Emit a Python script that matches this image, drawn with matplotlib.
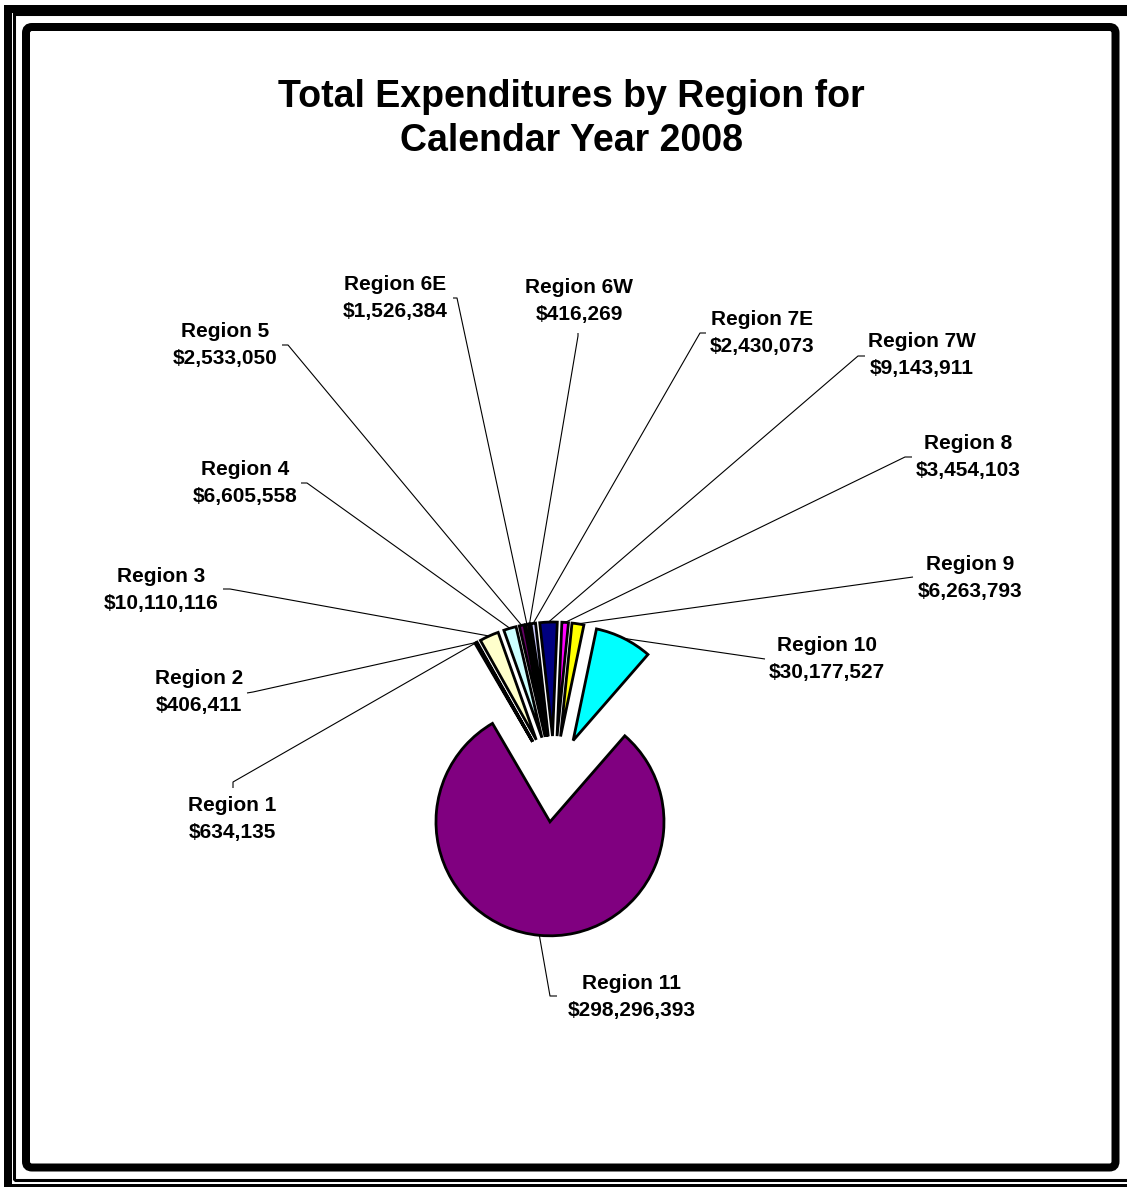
import matplotlib
matplotlib.use("Agg")
import matplotlib.pyplot as plt
from matplotlib.patches import Rectangle, FancyBboxPatch
import numpy as np

# ---- data ----
regions = ['Region 1', 'Region 2', 'Region 3', 'Region 4', 'Region 5', 'Region 6E',
           'Region 6W', 'Region 7E', 'Region 7W', 'Region 8', 'Region 9',
           'Region 10', 'Region 11']
amounts = [634135, 406411, 10110116, 6605558, 2533050, 1526384, 416269,
           2430073, 9143911, 3454103, 6263793, 30177527, 298296393]
colors = ['#9999FF', '#993366', '#FFFFCC', '#CCFFFF', '#660066', '#FF8080',
          '#0066CC', '#CCCCFF', '#000080', '#FF00FF', '#FFFF00', '#00FFFF',
          '#800080']
title = "Total Expenditures by Region for\nCalendar Year 2008"

# ---- layout (pixel coords from top-left) ----
W, H = 1127, 1187
def py(y):
    return H - y

# label text centre, anchor at label side, elbow point
label_layout = [
    ((232, 819), (233, 788), (233, 782)),
    ((199, 692), (247, 693), (253, 692)),
    ((161, 590), (223, 589), (230, 589)),
    ((245, 483), (301, 483), (307, 483)),
    ((225, 345), (282, 345), (288, 345)),
    ((395, 298), (453, 298), (457, 298)),
    ((579, 301), (578, 333), (578, 336)),
    ((762, 333), (706, 333), (700, 333)),
    ((922, 355), (865, 356), (858, 356)),
    ((968, 457), (912, 457), (905, 457)),
    ((970, 578), (913, 577), (913, 577)),
    ((827, 659), (765, 659), (765, 659)),
    ((632, 997), (557, 996), (550, 996)),
]

plt.rcParams['font.family'] = ['Liberation Sans', 'DejaVu Sans']

fig = plt.figure(figsize=(W / 100, H / 100), dpi=100)
ax = fig.add_axes([0, 0, 1, 1])

pie_center = (554, py(779))
pie_radius = 114
explode_dist = 43

wedges, _ = ax.pie(amounts, colors=colors, startangle=120.3, counterclock=False,
                   radius=pie_radius, center=pie_center,
                   explode=[explode_dist] * len(amounts),
                   wedgeprops=dict(edgecolor='black', linewidth=2.0))

for w, name, val, (tc, anc, elb) in zip(wedges, regions, amounts, label_layout):
    th = np.deg2rad(0.5 * (w.theta1 + w.theta2))
    cx, cy = w.center
    sx = cx + w.r * np.cos(th)
    sy = cy + w.r * np.sin(th)
    ax.plot([sx, elb[0], anc[0]], [sy, py(elb[1]), py(anc[1])],
            color='black', lw=0.8, solid_capstyle='butt', zorder=1)
    ax.text(tc[0], py(tc[1]), f"{name}\n${val:,}", ha='center', va='center',
            multialignment='center', fontsize=15, fontweight='bold',
            linespacing=1.5, color='black')

ax.text(571, py(119), title, ha='center', va='center', multialignment='center',
        fontsize=27, fontweight='bold', linespacing=1.32, color='black')

# ---- frames ----
ax.add_patch(Rectangle((8, py(1188)), 1133 - 8, 1188 - 8.5, fill=False,
                       edgecolor='black', lw=5.76, clip_on=False))
ax.add_patch(Rectangle((14, py(1180)), 1130 - 14, 1180 - 14, fill=False,
                       edgecolor='black', lw=2.2, clip_on=False))
ax.add_patch(FancyBboxPatch((26, py(1167.5)), 1115.5 - 26, 1167.5 - 27,
                            boxstyle="round,pad=0,rounding_size=6", fill=False,
                            edgecolor='black', lw=5.76, clip_on=False))

ax.set_xlim(0, W)
ax.set_ylim(0, H)
ax.set_aspect('auto')
ax.axis('off')

fig.savefig('out.png', dpi=100, facecolor='white')
